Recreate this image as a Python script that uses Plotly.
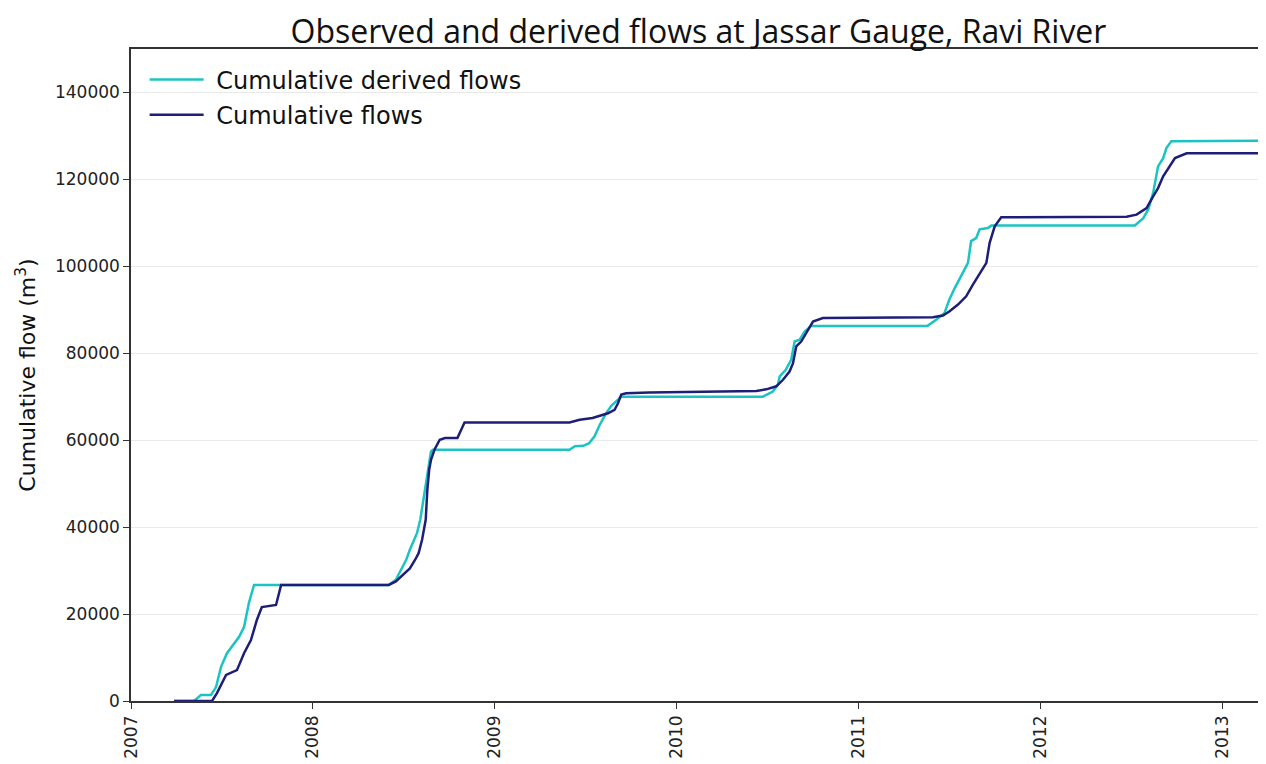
import plotly.graph_objects as go
import pandas as pd

# Cumulative flows (observed) - decimal years and values in thousands of m3
obs_t = [2007.237, 2007.446, 2007.473, 2007.523, 2007.583, 2007.622, 2007.66, 2007.693, 2007.72, 2007.798,
         2007.826, 2008.417, 2008.456, 2008.494, 2008.533, 2008.562, 2008.581, 2008.6, 2008.62, 2008.629,
         2008.639, 2008.649, 2008.668, 2008.697, 2008.726, 2008.794, 2008.814, 2008.833, 2009.41, 2009.466,
         2009.537, 2009.576, 2009.622, 2009.658, 2009.677, 2009.695, 2009.722, 2009.85, 2010.438, 2010.493,
         2010.548, 2010.585, 2010.621, 2010.64, 2010.658, 2010.685, 2010.713, 2010.75, 2010.804, 2011.41,
         2011.465, 2011.5, 2011.548, 2011.593, 2011.63, 2011.676, 2011.704, 2011.722, 2011.75, 2011.786,
         2012.474, 2012.529, 2012.584, 2012.62, 2012.647, 2012.675, 2012.712, 2012.74, 2012.804, 2013.3]
obs_v = [0, 0, 1.8, 6.0, 7.1, 11.0, 14.0, 18.7, 21.6, 22.1,
         26.7, 26.7, 27.5, 29.0, 30.5, 32.5, 34.0, 37.1, 41.7, 48.6,
         53.2, 55.5, 57.8, 60.1, 60.5, 60.5, 62.4, 64.1, 64.1, 64.7,
         65.1, 65.6, 66.2, 67.0, 68.5, 70.5, 70.8, 71.0, 71.3, 71.7,
         72.4, 73.9, 75.8, 77.7, 81.6, 82.7, 84.6, 87.3, 88.1, 88.3,
         88.7, 89.6, 91.2, 93.1, 95.8, 98.8, 100.8, 105.4, 109.2, 111.3,
         111.4, 111.9, 113.4, 116.1, 118.0, 120.7, 123.0, 124.9, 126.0, 126.0]

# Cumulative derived flows
der_t = [2007.237, 2007.347, 2007.385, 2007.44, 2007.468, 2007.495, 2007.528, 2007.594, 2007.622, 2007.649,
         2007.677, 2008.417, 2008.456, 2008.513, 2008.533, 2008.572, 2008.59, 2008.61, 2008.63, 2008.649,
         2008.66, 2009.41, 2009.44, 2009.487, 2009.518, 2009.548, 2009.576, 2009.612, 2009.64, 2009.667,
         2009.695, 2010.474, 2010.529, 2010.557, 2010.567, 2010.6, 2010.63, 2010.649, 2010.676, 2010.704,
         2010.74, 2011.38, 2011.428, 2011.474, 2011.5, 2011.53, 2011.575, 2011.603, 2011.62, 2011.648,
         2011.667, 2011.713, 2011.731, 2012.52, 2012.566, 2012.593, 2012.62, 2012.647, 2012.675, 2012.693,
         2012.72, 2013.3]
der_v = [0, 0, 1.4, 1.4, 3.2, 7.8, 11.0, 14.7, 17.0, 22.6,
         26.7, 26.7, 27.9, 32.5, 34.8, 38.6, 41.7, 47.0, 53.2, 57.4,
         57.8, 57.8, 58.6, 58.7, 59.3, 60.9, 63.5, 66.2, 67.9, 68.9,
         70.0, 70.0, 71.2, 72.8, 74.7, 76.2, 78.5, 82.7, 83.1, 85.0,
         86.3, 86.3, 87.7, 89.3, 92.3, 95.0, 98.5, 100.8, 105.8, 106.5,
         108.5, 108.8, 109.4, 109.4, 111.1, 113.1, 116.9, 123.0, 124.9, 127.2,
         128.8, 128.9]

year_ticks = [2007, 2008, 2009, 2010, 2011, 2012, 2013]
y_ticks = [0, 20000, 40000, 60000, 80000, 100000, 120000, 140000]


def to_date(t):
    y = int(t)
    start = pd.Timestamp(year=y, month=1, day=1)
    end = pd.Timestamp(year=y + 1, month=1, day=1)
    return start + (end - start) * (t - y)


fig = go.Figure()
fig.add_trace(go.Scatter(x=[to_date(t) for t in der_t], y=[v * 1000 for v in der_v],
                         mode="lines", name="\u00a0Cumulative derived flows", legendgroup="a",
                         line=dict(color="#1CC3C3", width=2.5)))
fig.add_trace(go.Scatter(x=[to_date(t) for t in obs_t], y=[v * 1000 for v in obs_v],
                         mode="lines", name="\u00a0Cumulative flows", legendgroup="b",
                         line=dict(color="#1E1E78", width=2.5)))

fig.update_layout(
    width=1258, height=756,
    margin=dict(l=123, r=0, t=41, b=63, autoexpand=False),
    paper_bgcolor="white", plot_bgcolor="white",
    title=dict(text="Observed and derived flows at Jassar Gauge, Ravi River",
               x=0.5, xref="paper", y=0.969, yanchor="middle",
               font=dict(family="Open Sans", size=32, color="#111")),
    legend=dict(x=0.012, y=0.987, xanchor="left", yanchor="top",
                bgcolor="rgba(0,0,0,0)", font=dict(family="DejaVu Sans", size=24, color="#111"),
                itemwidth=54, tracegroupgap=1),
    showlegend=True,
)
fig.update_xaxes(
    type="date",
    range=[to_date(2007.0), to_date(2013.24)],
    tickvals=[to_date(y) for y in year_ticks],
    ticktext=[str(y) for y in year_ticks],
    tickangle=-90,
    tickfont=dict(family="DejaVu Sans", size=17, color="#222"),
    ticks="outside", ticklen=6, tickcolor="#333",
    showgrid=False, zeroline=False, automargin=False,
    showline=True, linecolor="#333", linewidth=1.5, mirror=True,
)
fig.update_yaxes(
    range=[0, 150000],
    tickvals=y_ticks,
    ticktext=[str(v) for v in y_ticks],
    tickfont=dict(family="DejaVu Sans", size=17, color="#222"),
    ticks="outside", ticklen=6, tickcolor="#333",
    showgrid=True, gridcolor="#e9e9e9", gridwidth=1,
    zeroline=False, automargin=False,
    showline=True, linecolor="#333", linewidth=1.5,
    title=dict(text="Cumulative flow (m<sup>3</sup>)",
               font=dict(family="DejaVu Sans", size=22, color="#111"), standoff=13),
)

fig.write_html("out.html")
